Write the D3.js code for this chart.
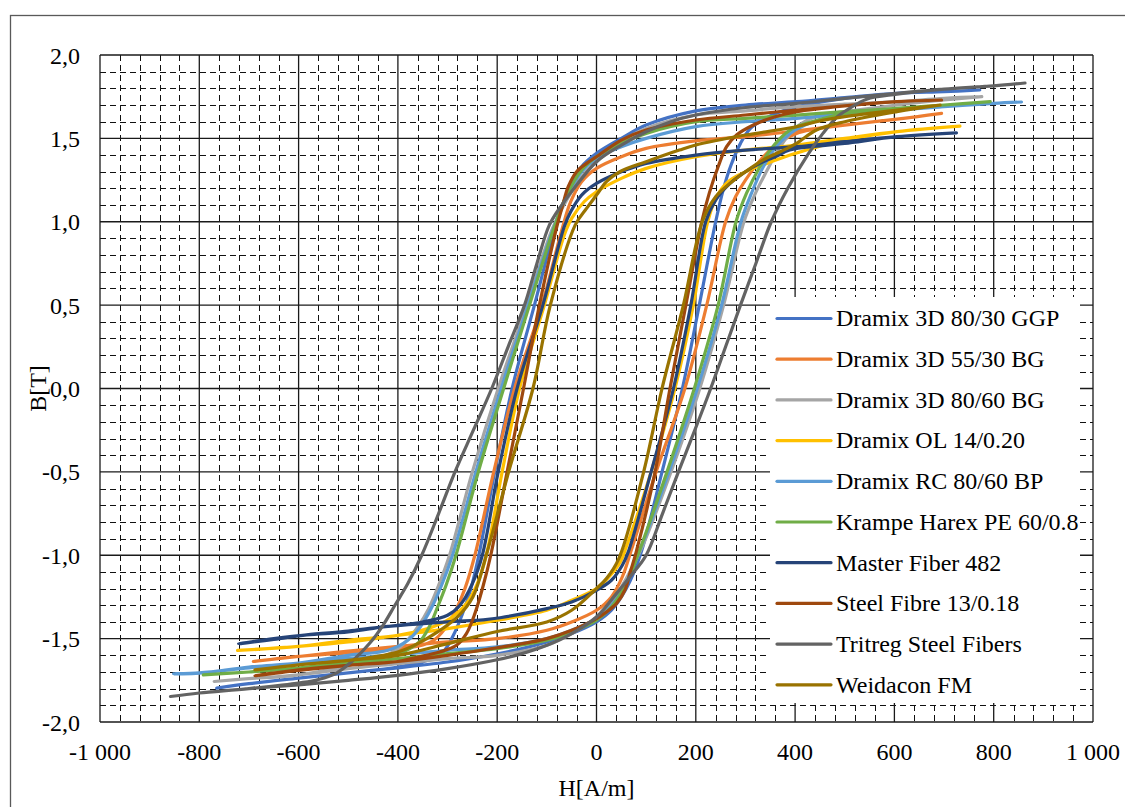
<!DOCTYPE html>
<html>
<head>
<meta charset="utf-8">
<script src="https://cdn.jsdelivr.net/npm/d3@7"></script>
<style>
  html, body { margin: 0; padding: 0; background: #fff; }
  svg { display: block; }
  text { font-family: "Liberation Serif"; }
</style>
</head>
<body>
<svg id="chart" width="1125" height="807"></svg>
<script>
// ---------------- DATA ----------------
const seriesNames = [
  "Dramix 3D 80/30 GGP", "Dramix 3D 55/30 BG", "Dramix 3D 80/60 BG", "Dramix OL 14/0.20",
  "Dramix RC 80/60 BP", "Krampe Harex PE 60/0.8", "Master Fiber 482", "Steel Fibre 13/0.18",
  "Tritreg Steel Fibers", "Weidacon FM"
];
const seriesColors = ["#4472C4", "#ED7D31", "#A5A5A5", "#FFC000", "#5B9BD5", "#70AD47", "#264478", "#9E480E", "#636363", "#997300"];

const xTicks = [-1000, -800, -600, -400, -200, 0, 200, 400, 600, 800, 1000];
const xTickLabels = ["-1 000", "-800", "-600", "-400", "-200", "0", "200", "400", "600", "800", "1 000"];
const yTicks = [-2, -1.5, -1, -0.5, 0, 0.5, 1, 1.5, 2];
const yTickLabels = ["-2,0", "-1,5", "-1,0", "-0,5", "0,0", "0,5", "1,0", "1,5", "2,0"];
const xTitle = "H[A/m]";
const yTitle = "B[T]";

// Each loop: descending branch (H from +Hmax to -Hmax), ascending branch (H from -Hmax to +Hmax); [H, B]
const dramix8030Down = [[772,1.79],[700,1.78],[605,1.77],[500,1.745],[403,1.72],[300,1.70],[200,1.665],[100,1.58],[50,1.5],[0,1.41],[-30,1.33],[-55,1.2],[-80,1.0],[-125,0.5],[-170,0],[-205,-0.5],[-237,-1.0],[-253,-1.2],[-271,-1.36],[-290,-1.49],[-309,-1.58],[-340,-1.63],[-400,-1.67],[-500,-1.705],[-600,-1.737],[-700,-1.77],[-765,-1.797]];
const dramix8030Up = [[-765,-1.797],[-700,-1.77],[-600,-1.737],[-500,-1.705],[-400,-1.675],[-300,-1.64],[-228,-1.607],[-150,-1.56],[-100,-1.52],[-50,-1.47],[0,-1.40],[30,-1.33],[60,-1.2],[88,-1.0],[132,-0.5],[173,0],[207,0.5],[240,1.0],[256,1.2],[271,1.34],[290,1.47],[310,1.56],[340,1.62],[380,1.67],[420,1.70],[500,1.74],[605,1.77],[700,1.78],[772,1.79]];

const dramix5530Down = [[695,1.65],[605,1.615],[500,1.58],[403,1.545],[300,1.51],[200,1.485],[100,1.44],[50,1.39],[0,1.32],[-30,1.24],[-52,1.12],[-70,0.95],[-110,0.5],[-165,0],[-207,-0.5],[-245,-1.0],[-265,-1.2],[-285,-1.34],[-305,-1.44],[-328,-1.51],[-360,-1.545],[-400,-1.56],[-500,-1.585],[-600,-1.607],[-691,-1.637]];
const dramix5530Up = [[-691,-1.637],[-600,-1.607],[-500,-1.575],[-400,-1.547],[-300,-1.52],[-200,-1.5],[-100,-1.45],[-50,-1.4],[0,-1.33],[30,-1.25],[52,-1.13],[70,-0.97],[120,-0.5],[178,0],[222,0.5],[260,1.0],[280,1.15],[300,1.25],[336,1.39],[366,1.47],[403,1.53],[500,1.58],[605,1.615],[695,1.65]];

const dramix8060Down = [[776,1.75],[700,1.74],[605,1.72],[500,1.705],[403,1.69],[300,1.665],[200,1.64],[100,1.56],[50,1.48],[0,1.36],[-30,1.27],[-60,1.13],[-90,0.95],[-140,0.5],[-198,0],[-250,-0.5],[-296,-1.0],[-318,-1.18],[-338,-1.32],[-360,-1.43],[-378,-1.5],[-400,-1.56],[-430,-1.61],[-500,-1.66],[-600,-1.717],[-700,-1.74],[-770,-1.757]];
const dramix8060Up = [[-770,-1.757],[-700,-1.74],[-600,-1.717],[-500,-1.68],[-400,-1.65],[-300,-1.62],[-200,-1.60],[-100,-1.54],[-50,-1.47],[0,-1.37],[30,-1.28],[60,-1.14],[92,-0.95],[150,-0.5],[208,0],[256,0.5],[297,1.0],[320,1.17],[342,1.3],[370,1.45],[396,1.55],[425,1.61],[456,1.64],[500,1.66],[605,1.7],[700,1.73],[776,1.75]];

const dramixOLDown = [[732,1.573],[605,1.54],[500,1.50],[403,1.46],[300,1.43],[200,1.39],[100,1.32],[50,1.26],[0,1.18],[-25,1.12],[-50,1.02],[-65,0.92],[-105,0.5],[-155,0],[-190,-0.5],[-222,-1.0],[-240,-1.17],[-262,-1.29],[-295,-1.38],[-340,-1.44],[-400,-1.48],[-500,-1.51],[-600,-1.547],[-723,-1.571]];
const dramixOLUp = [[-723,-1.571],[-600,-1.547],[-500,-1.52],[-400,-1.48],[-300,-1.44],[-200,-1.39],[-100,-1.33],[-50,-1.27],[0,-1.2],[25,-1.13],[48,-1.04],[60,-0.95],[110,-0.5],[158,0],[195,0.5],[224,1.0],[242,1.15],[265,1.24],[300,1.3],[343,1.35],[380,1.39],[423,1.43],[470,1.47],[500,1.49],[605,1.54],[732,1.573]];

const dramixRCDown = [[856,1.718],[800,1.71],[700,1.69],[605,1.67],[500,1.645],[403,1.62],[300,1.6],[200,1.57],[100,1.5],[50,1.45],[0,1.38],[-30,1.3],[-60,1.15],[-88,0.95],[-138,0.5],[-192,0],[-243,-0.5],[-290,-1.0],[-312,-1.18],[-333,-1.32],[-355,-1.43],[-380,-1.51],[-420,-1.57],[-500,-1.6],[-600,-1.647],[-700,-1.67],[-800,-1.707],[-852,-1.711]];
const dramixRCUp = [[-852,-1.711],[-800,-1.705],[-700,-1.675],[-600,-1.647],[-500,-1.62],[-400,-1.595],[-300,-1.57],[-200,-1.55],[-100,-1.5],[-50,-1.45],[0,-1.38],[30,-1.3],[60,-1.16],[90,-0.95],[146,-0.5],[203,0],[252,0.5],[291,1.0],[312,1.17],[336,1.33],[362,1.45],[390,1.53],[420,1.58],[449,1.61],[500,1.64],[605,1.67],[700,1.69],[800,1.71],[856,1.718]];

const krampeDown = [[793,1.72],[700,1.70],[605,1.68],[500,1.66],[403,1.64],[300,1.62],[200,1.60],[100,1.53],[50,1.47],[0,1.39],[-30,1.31],[-60,1.16],[-87,0.95],[-135,0.5],[-187,0],[-238,-0.5],[-283,-1.0],[-303,-1.18],[-320,-1.31],[-337,-1.43],[-357,-1.52],[-390,-1.58],[-450,-1.62],[-500,-1.64],[-600,-1.676],[-700,-1.7],[-792,-1.717]];
const krampeUp = [[-792,-1.717],[-700,-1.7],[-600,-1.676],[-500,-1.65],[-400,-1.62],[-300,-1.59],[-200,-1.56],[-100,-1.51],[-50,-1.46],[0,-1.39],[30,-1.31],[60,-1.17],[88,-0.96],[142,-0.5],[197,0],[245,0.5],[281,1.0],[302,1.17],[329,1.33],[350,1.43],[370,1.5],[395,1.56],[423,1.59],[470,1.63],[500,1.65],[605,1.68],[700,1.70],[793,1.72]];

const masterDown = [[725,1.533],[605,1.51],[500,1.48],[403,1.45],[300,1.43],[200,1.40],[100,1.35],[50,1.3],[0,1.23],[-30,1.16],[-52,1.06],[-65,0.97],[-108,0.5],[-160,0],[-198,-0.5],[-230,-1.0],[-250,-1.17],[-275,-1.3],[-300,-1.36],[-350,-1.4],[-430,-1.43],[-500,-1.46],[-584,-1.477],[-650,-1.5],[-721,-1.531]];
const masterUp = [[-721,-1.531],[-650,-1.505],[-584,-1.477],[-500,-1.455],[-430,-1.43],[-300,-1.4],[-228,-1.387],[-194,-1.375],[-100,-1.32],[-50,-1.28],[0,-1.21],[30,-1.15],[52,-1.06],[64,-0.98],[110,-0.5],[155,0],[190,0.5],[220,1.0],[240,1.13],[269,1.23],[300,1.3],[329,1.35],[360,1.39],[389,1.43],[450,1.455],[500,1.47],[605,1.51],[725,1.533]];

const steelDown = [[695,1.73],[605,1.72],[500,1.695],[403,1.67],[300,1.64],[200,1.61],[100,1.55],[50,1.49],[0,1.39],[-20,1.35],[-40,1.3],[-57,1.21],[-68,1.1],[-80,0.97],[-115,0.5],[-147,0],[-180,-0.5],[-213,-1.0],[-228,-1.18],[-245,-1.35],[-262,-1.47],[-282,-1.54],[-316,-1.58],[-360,-1.61],[-400,-1.637],[-500,-1.66],[-600,-1.687],[-688,-1.723]];
const steelUp = [[-688,-1.723],[-600,-1.69],[-500,-1.66],[-400,-1.637],[-300,-1.6],[-200,-1.555],[-100,-1.5],[-50,-1.45],[0,-1.38],[20,-1.34],[40,-1.29],[57,-1.21],[68,-1.1],[80,-0.98],[118,-0.5],[148,0],[180,0.5],[212,1.0],[227,1.17],[245,1.33],[262,1.45],[282,1.52],[316,1.58],[360,1.63],[403,1.66],[500,1.695],[605,1.72],[695,1.73]];

const tritregDown = [[863,1.832],[800,1.815],[700,1.795],[605,1.77],[500,1.74],[403,1.71],[300,1.685],[200,1.64],[150,1.6],[100,1.54],[50,1.46],[0,1.36],[-40,1.22],[-70,1.1],[-95,0.98],[-120,0.75],[-145,0.5],[-178,0.25],[-211,0],[-248,-0.25],[-285,-0.5],[-318,-0.75],[-352,-1.0],[-380,-1.17],[-406,-1.3],[-430,-1.42],[-456,-1.525],[-490,-1.63],[-523,-1.705],[-560,-1.745],[-597,-1.765],[-700,-1.8],[-800,-1.826],[-858,-1.847]];
const tritregUp = [[-858,-1.847],[-800,-1.826],[-700,-1.8],[-600,-1.777],[-500,-1.75],[-400,-1.72],[-300,-1.68],[-200,-1.627],[-150,-1.59],[-100,-1.54],[-50,-1.47],[0,-1.37],[40,-1.23],[70,-1.12],[100,-1.0],[133,-0.75],[165,-0.5],[198,-0.25],[230,0],[260,0.25],[290,0.5],[321,0.75],[352,1.0],[385,1.2],[425,1.4],[456,1.53],[485,1.63],[510,1.68],[544,1.735],[605,1.765],[700,1.795],[800,1.815],[863,1.832]];

const weidaconDown = [[692,1.70],[605,1.67],[500,1.63],[443,1.6],[403,1.57],[300,1.52],[200,1.46],[167,1.43],[100,1.36],[47,1.3],[20,1.24],[0,1.16],[-20,1.08],[-43,0.98],[-93,0.5],[-128,0],[-177,-0.5],[-222,-1.0],[-249,-1.25],[-280,-1.37],[-320,-1.46],[-360,-1.53],[-400,-1.58],[-450,-1.61],[-500,-1.63],[-600,-1.657],[-688,-1.687]];
const weidaconUp = [[-688,-1.687],[-600,-1.657],[-500,-1.63],[-400,-1.6],[-300,-1.53],[-200,-1.457],[-100,-1.4],[-50,-1.33],[0,-1.2],[20,-1.14],[45,-1.02],[95,-0.5],[132,0],[175,0.5],[213,1.0],[240,1.15],[269,1.23],[300,1.3],[335,1.37],[370,1.42],[403,1.47],[443,1.55],[500,1.6],[605,1.66],[692,1.70]];

const seriesDown = [dramix8030Down, dramix5530Down, dramix8060Down, dramixOLDown, dramixRCDown, krampeDown, masterDown, steelDown, tritregDown, weidaconDown];
const seriesUp = [dramix8030Up, dramix5530Up, dramix8060Up, dramixOLUp, dramixRCUp, krampeUp, masterUp, steelUp, tritregUp, weidaconUp];

// ---------------- DRAW ----------------
const FONT = '"Liberation Serif"';
const svg = d3.select("#chart");
const plot = { left: 100, right: 1093, top: 55, bottom: 722 };
const x = d3.scaleLinear().domain([-1000, 1000]).range([plot.left, plot.right]);
const y = d3.scaleLinear().domain([-2, 2]).range([plot.bottom, plot.top]);

// outer chart border
svg.append("rect").attr("x", 10.5).attr("y", 15.5).attr("width", 1140).attr("height", 820)
  .attr("fill", "none").attr("stroke", "#595959").attr("stroke-width", 1.3);

const grid = svg.append("g");
const xMinor = d3.range(-1000, 1001, 40).filter(v => v % 200 !== 0);
const yMinor = d3.range(-20, 21, 1).filter(v => v % 5 !== 0).map(v => v / 10);
grid.selectAll(".xm").data(xMinor).join("line")
  .attr("x1", d => Math.round(x(d)) + 0.5).attr("x2", d => Math.round(x(d)) + 0.5)
  .attr("y1", plot.top).attr("y2", plot.bottom)
  .attr("stroke", "#111").attr("stroke-width", 1).attr("stroke-dasharray", "6,4");
grid.selectAll(".ym").data(yMinor).join("line")
  .attr("y1", d => Math.round(y(d)) + 0.5).attr("y2", d => Math.round(y(d)) + 0.5)
  .attr("x1", plot.left).attr("x2", plot.right)
  .attr("stroke", "#111").attr("stroke-width", 1).attr("stroke-dasharray", "6,4");
grid.selectAll(".xM").data(xTicks).join("line")
  .attr("x1", d => x(d)).attr("x2", d => x(d))
  .attr("y1", plot.top).attr("y2", plot.bottom)
  .attr("stroke", "#1a1a1a").attr("stroke-width", 1.3);
grid.selectAll(".yM").data(yTicks).join("line")
  .attr("y1", d => y(d)).attr("y2", d => y(d))
  .attr("x1", plot.left).attr("x2", plot.right)
  .attr("stroke", "#1a1a1a").attr("stroke-width", 1.3);

// tick labels
svg.append("g").selectAll("text").data(xTicks).join("text")
  .attr("x", d => x(d)).attr("y", 760)
  .attr("text-anchor", "middle").attr("font-size", 24).style("font-family", FONT).attr("fill", "#000")
  .text((d, i) => xTickLabels[i]);
svg.append("g").selectAll("text").data(yTicks).join("text")
  .attr("x", 80).attr("y", d => y(d) + 8.5)
  .attr("text-anchor", "end").attr("font-size", 24).style("font-family", FONT).attr("fill", "#000")
  .text((d, i) => yTickLabels[i]);

// axis titles
svg.append("text").attr("x", x(0)).attr("y", 796).attr("text-anchor", "middle")
  .attr("font-size", 24).style("font-family", FONT).text(xTitle);
svg.append("text").attr("transform", `translate(46,${y(0)}) rotate(-90)`).attr("text-anchor", "middle")
  .attr("font-size", 24).style("font-family", FONT).text(yTitle);

// series
const line = d3.line().x(d => x(d[0])).y(d => y(d[1])).curve(d3.curveCatmullRom.alpha(0.5));
const gSeries = svg.append("g");
seriesNames.forEach((name, i) => {
  const pts = seriesDown[i].concat(seriesUp[i].slice(1));
  gSeries.append("path").attr("d", line(pts))
    .attr("fill", "none").attr("stroke", seriesColors[i]).attr("stroke-width", 3.2)
    .attr("stroke-linejoin", "round").attr("stroke-linecap", "round");
});

// legend
const lg = svg.append("g");
lg.append("rect").attr("x", 770).attr("y", 297).attr("width", 310).attr("height", 406).attr("fill", "#fff");
seriesNames.forEach((name, i) => {
  const ly = 318.5 + i * 40.7;
  lg.append("line").attr("x1", 777).attr("x2", 831).attr("y1", ly).attr("y2", ly)
    .attr("stroke", seriesColors[i]).attr("stroke-width", 3.2).attr("stroke-linecap", "round");
  lg.append("text").attr("x", 836).attr("y", ly + 7.8).attr("font-size", 24).style("font-family", FONT)
    .attr("fill", "#000").text(name);
});
</script>
</body>
</html>
